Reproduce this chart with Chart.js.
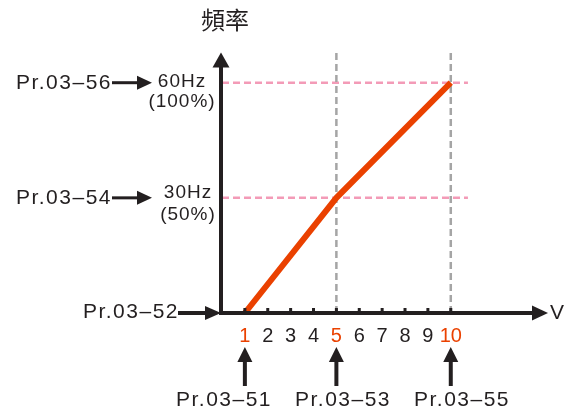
<!DOCTYPE html>
<html>
<head>
<meta charset="utf-8">
<script src="https://cdn.jsdelivr.net/npm/chart.js@4.4.1/dist/chart.umd.min.js"></script>
<style>
  html, body { margin: 0; padding: 0; background: #fff; }
  #freqChart { display: block; }
</style>
</head>
<body>
<canvas id="freqChart" width="569" height="412"></canvas>
<script>
// data
const voltTicks = [1, 2, 3, 4, 5, 6, 7, 8, 9, 10]
const markedVolts = [1, 5, 10]
const curveVolts = [1, 5, 10]
const curveHz = [0, 30, 60]
const freqLevels = [30, 60]
const freqLabels = ['30Hz', '60Hz']
const percentLabels = ['(50%)', '(100%)']
const leftParams = ['Pr.03–54', 'Pr.03–56']
const originParam = 'Pr.03–52'
const bottomParams = ['Pr.03–51', 'Pr.03–53', 'Pr.03–55']
const yTitle = '頻率'
const xTitle = 'V'

const ink = '#231F20'
const orange = '#EA4100'
const pink = '#F39BB7'
const grey = '#A5A5A5'
const latin = 'Liberation Sans, Arial, sans-serif'

// layout of the annotation texts (pixels)
const bottomLabelX = [224, 343, 462]

function hArrow(ctx, x1, x2, y, width, headLen, headHalf) {
  ctx.lineWidth = width
  ctx.beginPath()
  ctx.moveTo(x1, y)
  ctx.lineTo(x2 - headLen + 1, y)
  ctx.stroke()
  ctx.beginPath()
  ctx.moveTo(x2, y)
  ctx.lineTo(x2 - headLen, y - headHalf)
  ctx.lineTo(x2 - headLen, y + headHalf)
  ctx.closePath()
  ctx.fill()
}

function vArrow(ctx, x, y1, y2, width, headLen, headHalf) {
  // arrow pointing up, tip at y2
  ctx.lineWidth = width
  ctx.beginPath()
  ctx.moveTo(x, y1)
  ctx.lineTo(x, y2 + headLen - 1)
  ctx.stroke()
  ctx.beginPath()
  ctx.moveTo(x, y2)
  ctx.lineTo(x - headHalf, y2 + headLen)
  ctx.lineTo(x + headHalf, y2 + headLen)
  ctx.closePath()
  ctx.fill()
}

const sketchPlugin = {
  id: 'sketch',
  afterDatasetsDraw(chart) {
    const ctx = chart.ctx
    const xs = chart.scales.x
    const ys = chart.scales.y
    const x0 = xs.getPixelForValue(0) - 1
    const y0 = ys.getPixelForValue(0)

    ctx.save()
    ctx.fillStyle = ink
    ctx.strokeStyle = ink
    ctx.lineCap = 'butt'

    // axes with arrow heads
    vArrow(ctx, x0, y0 + 2, ys.top + 0.5, 4, 15, 8.5)
    hArrow(ctx, x0 - 2, xs.right, y0, 4, 16, 7.5)

    // small tick marks above the x axis
    voltTicks.forEach(v => {
      const px = xs.getPixelForValue(v)
      ctx.fillRect(px - 1.5, y0 - 5, 3, 4)
    })

    // tick labels
    ctx.font = '20px ' + latin
    ctx.textAlign = 'center'
    ctx.textBaseline = 'middle'
    voltTicks.forEach(v => {
      ctx.fillStyle = markedVolts.includes(v) ? orange : ink
      ctx.fillText(String(v), xs.getPixelForValue(v), y0 + 23)
    })

    ctx.fillStyle = ink
    ctx.font = '21px ' + latin
    ctx.textAlign = 'left'
    ctx.fillText(xTitle, 550, y0)

    ctx.font = '24px "Noto Sans CJK TC", "Noto Sans CJK SC", sans-serif'
    ctx.textAlign = 'center'
    ctx.fillText(yTitle, 225, 20)

    // left parameter labels
    freqLevels.forEach((f, i) => {
      const py = ys.getPixelForValue(f)
      ctx.letterSpacing = '1.5px'
      ctx.font = '21px ' + latin
      ctx.textAlign = 'right'
      ctx.fillText(leftParams[i], 112, py)
      hArrow(ctx, 112, 152, py, 3, 15, 7)
      ctx.font = '19px ' + latin
      ctx.textAlign = 'center'
      ctx.letterSpacing = '1px'
      const cx = i === 1 ? 182 : 188
      ctx.fillText(freqLabels[i], cx, py - (i === 1 ? 1 : 5))
      ctx.fillText(percentLabels[i], cx, py + (i === 1 ? 19 : 17))
    })

    // origin label
    ctx.letterSpacing = '1.5px'
    ctx.font = '21px ' + latin
    ctx.textAlign = 'right'
    ctx.fillText(originParam, 179, y0 - 1)
    hArrow(ctx, 178, x0, y0, 4, 16, 7)

    // bottom parameter labels
    markedVolts.forEach((v, i) => {
      const px = xs.getPixelForValue(v)
      vArrow(ctx, px, 386, 347, 4, 15, 7.5)
      ctx.textAlign = 'center'
      ctx.fillText(bottomParams[i], bottomLabelX[i], 400)
    })

    ctx.restore()
  }
}

const ctx = document.getElementById('freqChart').getContext('2d')

const freqChart = new Chart(ctx, {
  type: 'scatter',
  data: {
    datasets: [
      {
        label: 'curve',
        data: curveVolts.map((v, i) => ({ x: v, y: curveHz[i] })),
        showLine: true,
        borderColor: orange,
        borderWidth: 6,
        pointRadius: 0,
        borderCapStyle: 'butt',
        clip: false,
        order: 0,
      },
      ...freqLevels.map(f => ({
        label: 'level ' + f,
        data: [{ x: 0, y: f }, { x: 10.75, y: f }],
        showLine: true,
        borderColor: pink,
        borderWidth: 2.5,
        borderDash: [7, 4],
        pointRadius: 0,
        clip: false,
        order: 2,
      })),
      ...[5, 10].map(v => ({
        label: 'volt ' + v,
        data: [{ x: v, y: 0 }, { x: v, y: 68 }],
        showLine: true,
        borderColor: grey,
        borderWidth: 2.5,
        borderDash: [7, 4],
        pointRadius: 0,
        clip: false,
        order: 1,
      })),
    ],
  },
  options: {
    responsive: false,
    animation: false,
    devicePixelRatio: 1,
    layout: {
      padding: { left: 222, right: 21, top: 52, bottom: 99 },
    },
    plugins: {
      legend: { display: false },
      tooltip: { enabled: false },
    },
    scales: {
      x: { type: 'linear', min: 0, max: 14.25, display: false },
      y: { type: 'linear', min: 0, max: 68, display: false },
    },
  },
  plugins: [sketchPlugin],
})
</script>
</body>
</html>
